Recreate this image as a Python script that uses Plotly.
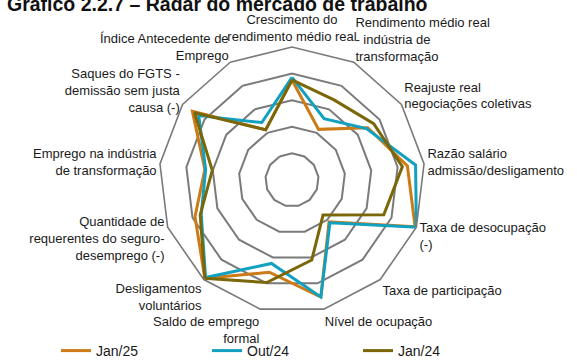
import plotly.graph_objects as go

# eixos do radar (sentido horário a partir do topo)
categorias = [
    "Crescimento do<br>rendimento médio real",
    "Rendimento médio real<br>- indústria de<br>transformação",
    "Reajuste real<br>negociações coletivas",
    "Razão salário<br>admissão/desligamento",
    "Taxa de desocupação<br>(-)",
    "Taxa de participação",
    "Nível de ocupação",
    "Saldo de emprego<br>formal",
    "Desligamentos<br>voluntários",
    "Quantidade de<br>requerentes do seguro-<br>desemprego (-)",
    "Emprego na indústria<br>de transformação",
    "Saques do FGTS -<br>demissão sem justa<br>causa (-)",
    "Índice Antecedente de<br>Emprego",
]

jan25 = [3.76, 2.15, 3.46, 4.37, 4.95, 2.1, 4.53, 3.57, 4.94, 3.9, 3.3, 4.55, 2.13]
out24 = [3.86, 2.6, 3.4, 4.68, 5.0, 2.15, 4.53, 3.23, 4.9, 3.65, 3.27, 4.26, 2.44]
jan24 = [3.76, 3.4, 3.73, 4.18, 3.69, 1.76, 3.1, 3.97, 4.94, 3.69, 3.02, 4.45, 2.13]

series = [
    ("Jan/25", jan25, "#CC7B17"),
    ("Out/24", out24, "#12A0C0"),
    ("Jan/24", jan24, "#7B6708"),
]

fig = go.Figure()
for nome, valores, cor in series:
    fig.add_trace(go.Scatterpolar(
        r=valores + valores[:1],
        theta=categorias + categorias[:1],
        mode="lines",
        name=nome,
        line={"color": cor, "width": 3},
    ))

W, H = 577, 361
cx, cy, R = 292, 180, 133

fig.update_layout(
    width=W, height=H,
    margin={"l": 0, "r": 0, "t": 0, "b": 0, "autoexpand": False},
    paper_bgcolor="white",
    font={"family": "Liberation Sans, Arial", "size": 13, "color": "#1a1a1a"},
    polar={
        "domain": {"x": [(cx - R) / W, (cx + R) / W],
                   "y": [(H - cy - R) / H, (H - cy + R) / H]},
        "bgcolor": "white",
        "gridshape": "linear",
        "radialaxis": {
            "range": [0, 5], "tickvals": [1, 2, 3, 4, 5],
            "showticklabels": False, "ticks": "",
            "showline": False,
            "gridcolor": "#7a7a7a", "gridwidth": 1.6,
        },
        "angularaxis": {
            "direction": "clockwise", "rotation": 90,
            "showgrid": False, "ticks": "",
            "showline": True, "linecolor": "#7a7a7a", "linewidth": 1.6,
            "tickfont": {"size": 13, "color": "#1a1a1a"},
        },
    },
    showlegend=True,
    legend={
        "orientation": "h", "x": 56 / W, "xanchor": "left",
        "y": -6 / H, "yanchor": "bottom",
        "entrywidth": 106, "entrywidthmode": "pixels",
        "font": {"size": 14, "color": "#1a1a1a"},
        "bgcolor": "rgba(0,0,0,0)",
    },
    annotations=[{
        "text": "<b>Gráfico 2.2.7 – Radar do mercado de trabalho</b>",
        "xref": "paper", "yref": "paper",
        "x": 5 / W, "xanchor": "left",
        "y": 1 - 4 / H, "yanchor": "middle",
        "showarrow": False,
        "font": {"size": 19.5, "color": "#111111"},
    }],
)

# a página não deve ter a margem padrão do navegador
fig.write_html("out.html", config={"displayModeBar": False},
               post_script="document.body.style.margin='0';")
